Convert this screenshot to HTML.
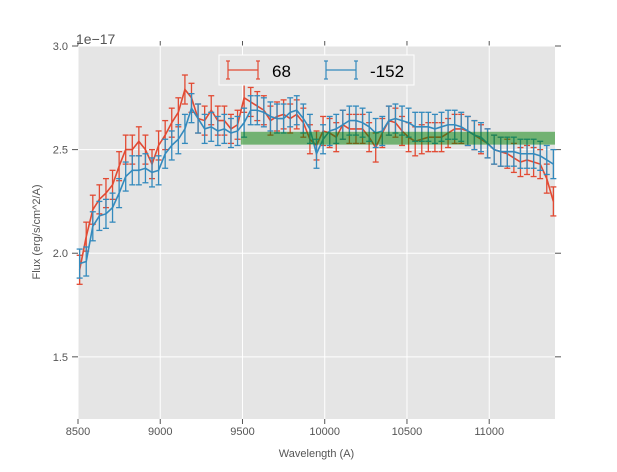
<!DOCTYPE html>
<html><head><meta charset="utf-8"><style>
body{margin:0;background:#fff}
svg text{font-family:"Liberation Sans",sans-serif}
</style></head><body>
<svg id="chart" width="617" height="467" xmlns="http://www.w3.org/2000/svg"></svg>
<script>
const wavelengths=[8510,8550,8590,8630,8670,8710,8750,8790,8830,8870,8910,8950,8990,9030,9070,9110,9150,9190,9230,9270,9310,9350,9390,9430,9470,9510,9550,9590,9630,9670,9710,9750,9790,9830,9870,9910,9950,9990,10030,10070,10110,10150,10190,10230,10270,10310,10350,10390,10430,10470,10510,10550,10590,10630,10670,10710,10750,10790,10830,10870,10910,10950,10990,11030,11070,11110,11150,11190,11230,11270,11310,11350,11390];
const flux68=[1.92,2.08,2.21,2.26,2.29,2.33,2.42,2.50,2.50,2.54,2.50,2.43,2.52,2.57,2.63,2.68,2.79,2.75,2.65,2.64,2.69,2.64,2.64,2.60,2.62,2.75,2.73,2.71,2.69,2.64,2.66,2.67,2.65,2.67,2.63,2.55,2.52,2.59,2.58,2.56,2.62,2.60,2.60,2.60,2.56,2.51,2.58,2.64,2.63,2.59,2.56,2.54,2.55,2.56,2.56,2.56,2.58,2.60,2.60,2.59,2.57,2.55,2.53,2.50,2.49,2.48,2.46,2.44,2.45,2.44,2.43,2.36,2.25];
const flux152=[1.95,1.96,2.13,2.18,2.19,2.22,2.29,2.37,2.40,2.40,2.41,2.39,2.40,2.48,2.52,2.55,2.60,2.70,2.65,2.60,2.61,2.59,2.60,2.58,2.59,2.63,2.69,2.69,2.68,2.66,2.65,2.65,2.68,2.69,2.65,2.60,2.48,2.55,2.59,2.60,2.62,2.64,2.64,2.63,2.61,2.58,2.59,2.64,2.65,2.64,2.63,2.61,2.61,2.61,2.60,2.61,2.62,2.62,2.61,2.59,2.57,2.56,2.53,2.50,2.49,2.49,2.49,2.48,2.48,2.48,2.47,2.45,2.43];
const errors=0.07;
const xTicks=[8500,9000,9500,10000,10500,11000];
const yTicks=[1.5,2.0,2.5,3.0];
const band=[9490,11400,2.524,2.586];
const seriesNames=["68","-152"];

const NS="http://www.w3.org/2000/svg";
const svg=document.getElementById('chart');
const L=78,R=555,T=46,B=419,X0=8500,X1=11400,Y0=1.2,Y1=3.0;
const xs=v=>L+(v-X0)/(X1-X0)*(R-L);
const ys=v=>B-(v-Y0)/(Y1-Y0)*(B-T);
function mk(tag,attrs,parent){const e=document.createElementNS(NS,tag);for(const k in attrs)e.setAttribute(k,attrs[k]);(parent||svg).appendChild(e);return e;}

let bg=mk('rect',{x:L,y:T,width:R-L,height:B-T,fill:'#e5e5e5'});


xTicks.forEach(t=>{
  const g=mk('line',{x1:xs(t),x2:xs(t),y1:T,y2:B,stroke:'#fff','stroke-width':1});
  
  
  mk('line',{x1:xs(t),x2:xs(t),y1:T,y2:T-5,stroke:'#555'});
  mk('line',{x1:xs(t),x2:xs(t),y1:B,y2:B+5,stroke:'#555'});
  const tx=mk('text',{x:xs(t),y:B+16,'text-anchor':'middle','font-size':11,fill:'#555'});
  tx.textContent=t;
  
  
});
yTicks.forEach(t=>{
  const g=mk('line',{x1:L,x2:R,y1:ys(t),y2:ys(t),stroke:'#fff','stroke-width':1});
  
  
  mk('line',{x1:L,x2:L-6,y1:ys(t),y2:ys(t),stroke:'#555'});
  mk('line',{x1:R,x2:R+6,y1:ys(t),y2:ys(t),stroke:'#555'});
  const tx=mk('text',{x:L-10,y:ys(t)+4,'text-anchor':'end','font-size':11,fill:'#555'});
  tx.textContent=t.toFixed(1);
  
  
});

function series(data,color,name){
  const g=mk('g',{stroke:color,fill:'none','stroke-width':1.3});
  
  
  data.forEach((v,i)=>{
    const x=xs(wavelengths[i]),a=ys(v+errors),b=ys(v-errors);
    mk('line',{x1:x,x2:x,y1:a,y2:b},g);
    mk('line',{x1:x-3,x2:x+3,y1:a,y2:a},g);
    mk('line',{x1:x-3,x2:x+3,y1:b,y2:b},g);
  });
  const p=mk('polyline',{points:data.map((v,i)=>xs(wavelengths[i])+','+ys(v)).join(' '),'stroke-width':1.6},g);
  
  
}
series(flux68,'#E24A33','series-68');
series(flux152,'#348ABD','series-152');

const bd=mk('rect',{x:xs(band[0]),y:ys(band[3]),width:xs(band[1])-xs(band[0]),height:ys(band[2])-ys(band[3]),fill:'green','fill-opacity':0.5});



const lg=mk('g',{});


mk('rect',{x:219,y:55,width:195,height:30,fill:'#e5e5e5',stroke:'#fff'},lg);
[['#E24A33',228,seriesNames[0]],['#348ABD',326,seriesNames[1]]].forEach(([c,x0,lab])=>{
  const e=mk('g',{stroke:c,'stroke-width':1.2},lg);
  
  
  mk('line',{x1:x0,x2:x0+30,y1:70,y2:70},e);
  [x0,x0+30].forEach(xx=>{
    mk('line',{x1:xx,x2:xx,y1:61,y2:79},e);
    mk('line',{x1:xx-2,x2:xx+2,y1:61,y2:61},e);
    mk('line',{x1:xx-2,x2:xx+2,y1:79,y2:79},e);
  });
  const t=mk('text',{x:x0+44,y:77,'font-size':17,fill:'#000',stroke:'none'},lg);
  t.textContent=lab;
});
const off=mk('text',{x:76,y:44,'font-size':14,fill:'#555'});off.textContent='1e\u221217';


const xl=mk('text',{x:(L+R)/2,y:457,'text-anchor':'middle','font-size':11,fill:'#555'});xl.textContent='Wavelength (A)';


const yl=mk('text',{x:0,y:0,'text-anchor':'middle','font-size':11,fill:'#555',transform:'translate(40,232) rotate(-90)'});yl.textContent='Flux (erg/s/cm^2/A)';


</script>
</body></html>
